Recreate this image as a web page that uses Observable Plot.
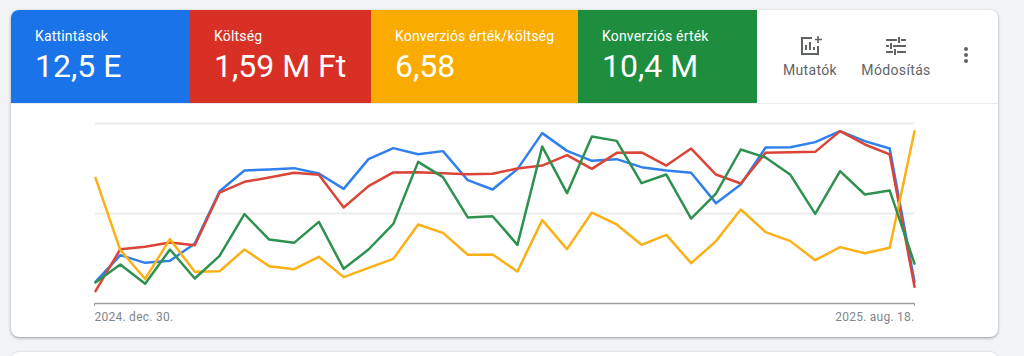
<!DOCTYPE html>
<html lang="hu">
<head>
<meta charset="utf-8">
<script src="https://cdn.jsdelivr.net/npm/d3@7"></script>
<script src="https://cdn.jsdelivr.net/npm/@observablehq/plot@0.6"></script>
<style>
html,body{margin:0;padding:0;width:1024px;height:356px;overflow:hidden;background:#f1f3f4;font-family:Roboto,sans-serif}
.card{position:absolute;left:11px;top:10px;width:987px;height:327px;background:#fff;border-radius:8px;box-shadow:0 1px 2px rgba(60,64,67,.35),0 1px 3px 1px rgba(60,64,67,.12);overflow:hidden}
.card2{position:absolute;left:11px;top:352px;width:987px;height:40px;background:#fff;border-radius:8px;box-shadow:0 0 2px rgba(60,64,67,.25)}
.tile{position:absolute;top:0;height:93px;color:#fff}
.tile .l{position:absolute;top:18px;font-size:14px;line-height:16px;letter-spacing:.17px;white-space:nowrap}
.tile .v{position:absolute;top:38px;font-size:32px;line-height:36px;white-space:nowrap}
.sep2{position:absolute;left:0;right:0;top:93px;height:1px;background:#e8eaed}
.btn{position:absolute;top:52px;font-size:14px;line-height:16px;letter-spacing:.35px;color:#5f6368;white-space:nowrap;transform:translateX(-50%)}
.ic{position:absolute}
#chart{position:absolute;left:0;top:105px}
#chart svg{display:block;background:transparent}
#chart text{letter-spacing:.25px}
</style>
</head>
<body>
<div class="card2"></div>
<div class="card">
  <div class="sep2"></div>
  <div class="tile" style="left:0;width:179px;background:#1a73e8"><div class="l" style="left:24px">Kattintások</div><div class="v" style="left:24px">12,5 E</div></div>
  <div class="tile" style="left:179px;width:181px;background:#d93025"><div class="l" style="left:24px">Költség</div><div class="v" style="left:24px">1,59 M Ft</div></div>
  <div class="tile" style="left:360px;width:207px;background:#f9ab00"><div class="l" style="left:24px">Konverziós érték/költség</div><div class="v" style="left:24px">6,58</div></div>
  <div class="tile" style="left:567px;width:179px;background:#1e8e3e"><div class="l" style="left:24px">Konverziós érték</div><div class="v" style="left:24px">10,4 M</div></div>
  <svg class="ic" style="left:789px;top:26px" width="22" height="20" viewBox="0 0 22 20" fill="none" stroke="#5f6368" stroke-width="2">
    <path d="M12 2H2v16h16v-8"/><path d="M6 14V9M10 14V6M14 14v-3"/><path d="M18 0v7M15 3.5h7" stroke-width="1.6"/>
  </svg>
  <svg class="ic" style="left:875px;top:27px" width="20" height="18" viewBox="0 0 20 18" fill="none" stroke="#5f6368" stroke-width="2">
    <path d="M0 3h11M15 3h5M13 0v6M0 9h3M7 9h13M5 6v6M0 15h7M11 15h9M9 12v6"/>
  </svg>
  <svg class="ic" style="left:952px;top:36px" width="6" height="18" viewBox="0 0 6 18" fill="#5f6368">
    <circle cx="3" cy="3" r="2"/><circle cx="3" cy="9" r="2"/><circle cx="3" cy="15" r="2"/>
  </svg>
  <div class="btn" style="left:799px">Mutatók</div>
  <div class="btn" style="left:885px">Módosítás</div>
</div>
<div id="chart"></div>
<script>
const startDate = new Date(Date.UTC(2024, 11, 30));
const tickLabels = ["2024. dec. 30.", "2025. aug. 18."];
const kattintasok = [24.1,53.7,45.2,47.4,66.7,124.8,147.8,148.9,150.4,144.4,127.4,160.4,172.6,165.9,169.3,137.0,126.7,149.3,189.3,169.6,158.5,160.4,151.5,147.8,145.2,111.5,132.2,173.3,173.7,179.3,191.5,180.4,172.2,24.1];
const koltseg = [13.7,60.4,63.0,67.8,64.8,123.3,135.2,140.0,145.2,143.0,106.7,130.4,145.6,145.9,144.8,143.7,144.1,150.0,153.3,164.8,149.6,167.4,167.8,153.3,172.2,143.3,133.3,167.4,168.1,168.5,191.5,176.7,165.6,18.5];
const ertekKoltseg = [139.6,59.3,27.4,71.5,35.2,35.9,60.0,41.5,38.1,51.9,29.3,39.6,49.6,87.8,78.5,54.1,54.4,35.6,92.6,60.4,101.1,87.8,65.2,76.3,44.8,69.3,104.4,79.3,69.3,48.1,62.6,55.9,61.9,191.5];
const ertek = [23.3,43.3,21.9,60.0,27.8,53.0,99.3,71.1,67.4,90.7,38.5,60.0,88.5,157.4,140.4,95.6,97.0,65.2,174.4,122.6,185.6,180.7,133.7,143.3,94.4,122.2,171.1,162.2,143.0,99.6,147.0,121.1,125.6,44.4];
const gridValues = [100, 200];

const dates = kattintasok.map((_, i) => d3.utcDay.offset(startDate, 7 * i));
const series = [
  [kattintasok, "#2f80ed"],
  [koltseg, "#db4437"],
  [ertekKoltseg, "#fbb016"],
  [ertek, "#2f9150"]
];
const firstDate = dates[0], lastDate = dates[dates.length - 1];

const chart = Plot.plot({
  width: 1024,
  height: 225,
  marginLeft: 95,
  marginRight: 110,
  marginTop: 18,
  marginBottom: 27,
  style: {fontFamily: "Roboto, sans-serif", background: "transparent"},
  x: {type: "utc", domain: [firstDate, lastDate]},
  y: {domain: [0, 200], axis: null},
  marks: [
    Plot.ruleY(gridValues, {stroke: "#ebebeb", strokeWidth: 2}),
    ...series.map(([vals, color]) =>
      Plot.line(vals, {x: (d, i) => dates[i], y: d => d, stroke: color, strokeWidth: 2.5, curve: "linear"})),
    Plot.ruleY([0], {stroke: "#9e9e9e", strokeWidth: 1.5}),
    Plot.axisX({ticks: [firstDate], tickFormat: () => tickLabels[0], tickSize: 3, tickPadding: 6, textAnchor: "start", dx: -1, stroke: "#9e9e9e", fill: "#80868b", fontSize: 12, label: null}),
    Plot.axisX({ticks: [lastDate], tickFormat: () => tickLabels[1], tickSize: 3, tickPadding: 6, textAnchor: "end", stroke: "#9e9e9e", fill: "#80868b", fontSize: 12, label: null})
  ]
});
document.getElementById("chart").appendChild(chart);
</script>
</body>
</html>
